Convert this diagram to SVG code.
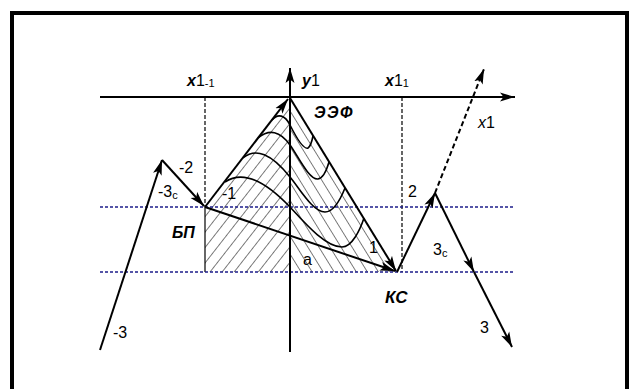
<svg xmlns="http://www.w3.org/2000/svg" width="629" height="389" viewBox="0 0 629 389">
<style>
.ln{fill:none;stroke:#000;stroke-width:2}
.ax{fill:none;stroke:#000;stroke-width:2}
.cv{fill:none;stroke:#000;stroke-width:1.6}
.dsh{fill:none;stroke:#000;stroke-width:1.2;stroke-dasharray:4 2}
.blu{fill:none;stroke:#1c1c8a;stroke-width:1.6;stroke-dasharray:3 2}
.t{font-family:"Liberation Sans",Arial,sans-serif;font-size:16px;fill:#000}
.bi{font-style:italic;font-weight:bold}
.it{font-style:italic}
.sub{font-size:11px}
</style>
<defs>
<marker id="ah" markerUnits="userSpaceOnUse" markerWidth="16" markerHeight="10" viewBox="0 0 16 10" refX="15" refY="5" orient="auto">
<path d="M0,0.5 L15,5 L0,9.5 L3.5,5 Z" fill="#000"/>
</marker>
<pattern id="hatchL" patternUnits="userSpaceOnUse" width="9.5" height="10" patternTransform="rotate(38)">
<line x1="0" y1="0" x2="0" y2="10" stroke="#111" stroke-width="1.1"/>
</pattern>
<pattern id="hatchR" patternUnits="userSpaceOnUse" width="9.4" height="10" patternTransform="rotate(-31.7)">
<line x1="0" y1="0" x2="0" y2="10" stroke="#111" stroke-width="1.1"/>
</pattern>
</defs>
<rect width="629" height="389" fill="#fff"/>
<path d="M12,389 V13 H627 V389" fill="none" stroke="#000" stroke-width="4"/>
<g id="region">
<polygon points="205,207 288,100 290,100 290,272 205,272" fill="url(#hatchL)"/>
<polygon points="290,100 396,272 290,272" fill="url(#hatchR)"/>
<line x1="205" y1="207" x2="205" y2="272" stroke="#000" stroke-width="1.2"/>
</g>
<g id="guides">
<line class="dsh" x1="205" y1="97" x2="205" y2="207"/>
<line class="dsh" x1="402" y1="97" x2="402" y2="272"/>
<line class="blu" x1="100" y1="207" x2="515" y2="207"/>
<line class="blu" x1="100" y1="272" x2="515" y2="272"/>
</g>
<g id="curves">
<path class="cv" d="M272,120 C278,113 285,115 290,125 C295,135 303,150 308,148 C311,146 312,141 313,136"/>
<path class="cv" d="M258,138 Q275,124 290,145 C298,156 309,180 318,179 C324,178 327,169 329,162"/>
<path class="cv" d="M243,158 Q262,142 290,177 C300,189 313,212 325,212 C334,212 341,198 345,188"/>
<path class="cv" d="M225,182 Q250,165 290,207 C303,221 325,247 342,247 C352,247 360,230 364,218"/>
</g>
<g id="axes">
<path class="ax" d="M100,97 L515,97" marker-end="url(#ah)"/>
<path class="ax" d="M290,352 L290,68" marker-end="url(#ah)"/>
<text class="t" x="187" y="86"><tspan class="bi">x</tspan>1<tspan class="sub" dy="1">-1</tspan></text>
<text class="t" x="302" y="86"><tspan class="bi">y</tspan>1</text>
<text class="t" x="385" y="86"><tspan class="bi">x</tspan>1<tspan class="sub" dy="1">1</tspan></text>
<text class="t" x="478" y="128"><tspan class="it">x</tspan>1</text>
</g>
<g id="connectors">
<path class="ln" d="M100,350 L162,160" marker-end="url(#ah)"/>
<path class="ln" d="M162,160 L204,206" marker-end="url(#ah)"/>
<path class="ln" d="M205,207 L288,99" marker-end="url(#ah)"/>
<path class="ln" d="M290,98 L396,271" marker-end="url(#ah)"/>
<path class="ln" d="M205,207 L395,271" marker-end="url(#ah)"/>
<path class="ln" d="M397,272 L435,193" marker-end="url(#ah)"/>
<path class="ln" d="M435,193 L484,69" stroke-dasharray="5 3" stroke-width="1.5" marker-end="url(#ah)"/>
<path class="ln" d="M435,193 L474,272" marker-end="url(#ah)"/>
<path class="ln" d="M474,272 L512,347" marker-end="url(#ah)"/>
<text class="t" x="113" y="338">-3</text>
<text class="t" x="179" y="173">-2</text>
<text class="t" x="158" y="197">-3<tspan class="sub" dy="2">c</tspan></text>
<text class="t" x="222" y="199">-1</text>
<text class="t" x="303" y="265">a</text>
<text class="t" x="369" y="253">1</text>
<text class="t" x="408" y="197">2</text>
<text class="t" x="433" y="255">3<tspan class="sub" dy="2">c</tspan></text>
<text class="t" x="480" y="333">3</text>
</g>
<g id="node-EEF">
<text class="t bi" x="314" y="118" style="font-size:16px;letter-spacing:1.5px">ЭЭФ</text>
</g>
<g id="node-BP">
<text class="t bi" x="172" y="238">БП</text>
</g>
<g id="node-KS">
<text class="t bi" x="385" y="303" style="font-size:17px">КС</text>
</g>
</svg>
